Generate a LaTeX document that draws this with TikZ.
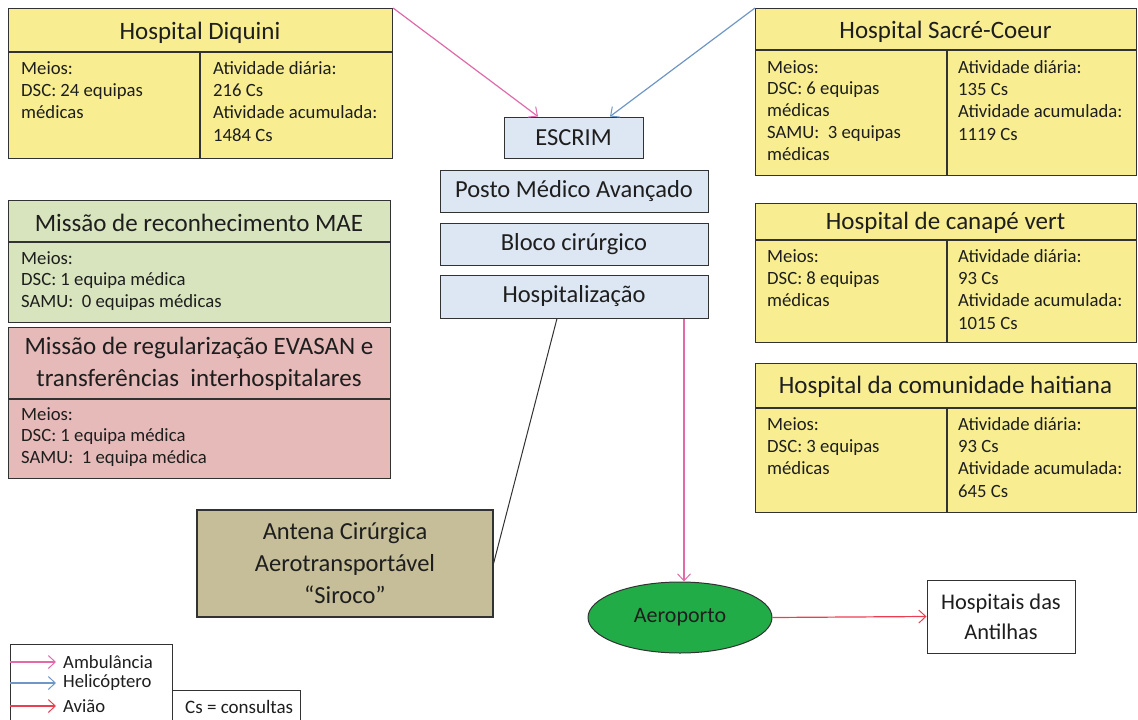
\documentclass[tikz,border=0pt]{standalone}
\usepackage{fontspec}
\setmainfont{Carlito}
\usetikzlibrary{arrows.meta,shapes.geometric}
\definecolor{hyellow}{RGB}{248,238,145}
\definecolor{mgreen}{RGB}{216,228,190}
\definecolor{mred}{RGB}{230,186,185}
\definecolor{lblue}{RGB}{221,231,243}
\definecolor{khaki}{RGB}{197,190,152}
\definecolor{agreen}{RGB}{34,172,72}
\definecolor{pinkc}{RGB}{228,105,170}
\definecolor{bluec}{RGB}{110,150,200}
\definecolor{redc}{RGB}{236,62,82}
\definecolor{edge}{RGB}{50,50,50}
\definecolor{txt}{RGB}{30,30,30}
\tikzset{
  boxbase/.style={draw=edge, line width=1.1pt, rectangle, anchor=north west, inner sep=0pt},
  ybox/.style={boxbase, fill=hyellow},
  gbox/.style={boxbase, fill=mgreen},
  rbox/.style={boxbase, fill=mred},
  bbox/.style={draw=edge, line width=1pt, fill=lblue, rectangle, inner sep=0pt, font=\fontsize{24.5}{29}\selectfont, text=txt},
  divline/.style={draw=edge, line width=1.1pt},
  titletext/.style={font=\fontsize{25}{30}\selectfont, text=txt, align=center, inner sep=0pt},
  celltext/.style={font=\fontsize{18.7}{22.3}\selectfont, text=txt, align=left, anchor=north west, inner sep=0pt},
  barb/.style={-{Straight Barb[length=7pt,width=13pt,line width=1pt]}, line width=1.2pt},
}
\begin{document}
\begin{tikzpicture}[x=1pt,y=-1pt]
\useasboundingbox (0,0) rectangle (1138,720);

% Hospital Diquini
\node[ybox, minimum width=384pt, minimum height=150pt] (diq) at (8,8) {};
\draw[divline] (8,52) -- (392,52) (200,52) -- (200,158);
\node[titletext] (diqt) at (200,33) {Hospital Diquini};
\node[celltext] (diql) at (21,61) {Meios:\\DSC: 24 equipas\\médicas};
\node[celltext] (diqr) at (213,61) {Atividade diária:\\216 Cs\\Atividade acumulada:\\1484 Cs};

% Hospital Sacre-Coeur
\node[ybox, minimum width=381pt, minimum height=167pt] (sac) at (755,8) {};
\draw[divline] (755,50) -- (1136,50) (947,50) -- (947,175);
\node[titletext] (sact) at (945.5,32) {Hospital Sacré-Coeur};
\node[celltext, font=\fontsize{18.7}{21.8}\selectfont] (sacl) at (767,60) {Meios:\\DSC: 6 equipas\\médicas\\SAMU:~~3 equipas\\médicas};
\node[celltext] (sacr) at (958,60) {Atividade diária:\\135 Cs\\Atividade acumulada:\\1119 Cs};

% Hospital de canape vert
\node[ybox, minimum width=381pt, minimum height=139pt] (can) at (755,203) {};
\draw[divline] (755,240) -- (1136,240) (947,240) -- (947,342);
\node[titletext] (cant) at (945.5,223) {Hospital de canapé vert};
\node[celltext] (canl) at (767,249) {Meios:\\DSC: 8 equipas\\médicas};
\node[celltext] (canr) at (958,249) {Atividade diária:\\93 Cs\\Atividade acumulada:\\1015 Cs};

% Hospital da comunidade haitiana
\node[ybox, minimum width=381pt, minimum height=149pt] (hai) at (755,363) {};
\draw[divline] (755,408) -- (1136,408) (947,408) -- (947,512);
\node[titletext] (hait) at (945.5,387) {Hospital da comunidade haitiana};
\node[celltext] (hail) at (767,417) {Meios:\\DSC: 3 equipas\\médicas};
\node[celltext] (hair) at (958,417) {Atividade diária:\\93 Cs\\Atividade acumulada:\\645 Cs};

% Missao MAE
\node[gbox, minimum width=382pt, minimum height=122pt] (mae) at (8,200) {};
\draw[divline] (8,242) -- (390,242);
\node[titletext] (maet) at (199,223) {Missão de reconhecimento MAE};
\node[celltext, font=\fontsize{18.7}{21.8}\selectfont] (mael) at (21,251) {Meios:\\DSC: 1 equipa médica\\SAMU:~~0 equipas médicas};

% Missao EVASAN
\node[rbox, minimum width=382pt, minimum height=151pt] (eva) at (8,327) {};
\draw[divline] (8,399) -- (390,399);
\node[titletext, font=\fontsize{25}{32}\selectfont] (evat) at (199,364) {Missão de regularização EVASAN e\\transferências~~interhospitalares};
\node[celltext, font=\fontsize{18.7}{21.8}\selectfont] (eval) at (21,407) {Meios:\\DSC: 1 equipa médica\\SAMU:~~1 equipa médica};

% ESCRIM column
\node[bbox, minimum width=139pt, minimum height=41pt] (esc) at (573.5,137.5) {ESCRIM};
\node[bbox, minimum width=268pt, minimum height=42pt] (pma) at (574,191) {Posto Médico Avançado};
\node[bbox, minimum width=268pt, minimum height=42pt] (blo) at (574,244) {Bloco cirúrgico};
\node[bbox, minimum width=268pt, minimum height=43pt] (hos) at (574,296.5) {Hospitalização};

% Antena
\node[boxbase, anchor=center, fill=khaki, minimum width=296pt, minimum height=107pt, font=\fontsize{24.5}{32}\selectfont, text=txt, align=center] (ant) at (345,563.5) {Antena Cirúrgica\\Aerotransportável\\“Siroco”};

% Aeroporto
\node[ellipse, draw=edge, line width=1pt, fill=agreen, minimum width=184pt, minimum height=71pt, inner sep=0pt, font=\fontsize{22}{26}\selectfont, text=txt] (aer) at (680,617.5) {Aeroporto};

% Hospitais das Antilhas
\node[draw=edge, line width=1pt, fill=white, minimum width=148pt, minimum height=73pt, inner sep=0pt, align=center, font=\fontsize{22.4}{30}\selectfont, text=txt] (ant2) at (1001,616.5) {Hospitais das\\Antilhas};

% Connectors
\draw[barb, pinkc] (diq.north east) -- (esc.north west -| 538,0);
\draw[barb, bluec] (sac.north west) -- (esc.north east -| 610,0);
\draw[line width=1pt, edge] (hos.south west -| 557,0) -- (ant.east);
\draw[barb, pinkc] (hos.south east -| 684,0) -- (aer.north -| 684,0);
\draw[barb, redc] (aer.east) -- (ant2.west);

% Legend
\node[draw=edge, line width=1pt, anchor=north west, minimum width=162pt, minimum height=90pt, inner sep=0pt] (leg) at (10,644) {};
\coordinate (l1a) at (10,662); \coordinate (l1b) at (56,662);
\coordinate (l2a) at (10,683); \coordinate (l2b) at (56,683);
\coordinate (l3a) at (10,706); \coordinate (l3b) at (56,706);
\draw[barb, pinkc] (l1a) -- (l1b);
\draw[barb, bluec] (l2a) -- (l2b);
\draw[barb, redc] (l3a) -- (l3b);
\node[celltext, anchor=west] (lt1) at (63,662) {Ambulância};
\node[celltext, anchor=west] (lt2) at (63,683) {Helicóptero};
\node[celltext, anchor=west] (lt3) at (63,706) {Avião};
\node[draw=edge, line width=1pt, anchor=north west, minimum width=128pt, minimum height=40pt, inner sep=0pt] (csb) at (172,690) {};
\node[celltext, anchor=west, font=\fontsize{19}{22}\selectfont] (cst) at (185,707) {Cs = consultas};
\end{tikzpicture}
\end{document}
